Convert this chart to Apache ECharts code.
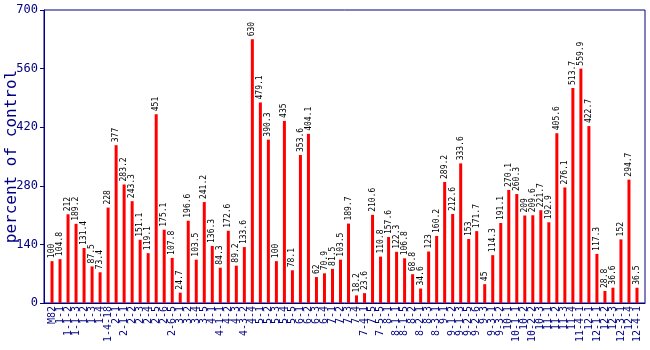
<!DOCTYPE html>
<html><head><meta charset="utf-8">
<script src="https://cdn.jsdelivr.net/npm/echarts@6/dist/echarts.min.js"></script>
<style>html,body{margin:0;padding:0;background:#fff}#c{width:650px;height:350px}</style>
</head><body><div id="c"></div>
<script>
const categories = ["M82","1-1","1-1-2","1-1-3","1-2","1-3","1-4","1-4-18","2-1","2-1-1","2-2","2-3","2-4","2-5","2-6","2-6-5","3-1","3-2","3-4","3-5","4-1","4-1-1","4-2","4-3","4-3-2","4-4","5-1","5-2","5-3","5-4","5-5","6-1","6-2","6-3","6-4","7-1","7-2","7-3","7-4","7-4-1","7-5","7-5-5","8-1","8-1-1","8-1-5","8-2","8-2-1","8-3","8-3-1","9-1","9-1-2","9-1-3","9-2-5","9-2-6","9-3","9-3-1","9-3-2","10-1","10-1-1","10-2","10-2-2","10-3","11-1","11-2","11-3","11-4","11-4-1","12-1","12-1-1","12-2","12-3","12-3-1","12-4","12-4-1"];
const values = [100,104.8,212,189.2,131.4,87.5,73.4,228,377,283.2,243.3,151.1,119.1,451,175.1,107.8,24.7,196.6,103.5,241.2,136.3,84.3,172.6,89.2,133.6,630,479.1,390.3,100,435,78.1,353.6,404.1,62,70.9,81.5,103.5,189.7,18.2,23.6,210.6,110.8,157.6,122.3,106.8,68.8,34.6,123,160.2,289.2,212.6,333.6,153,171.7,45,114.3,191.1,270.1,260.3,209,209.6,221.7,192.9,405.6,276.1,513.7,559.9,422.7,117.3,28.8,36.6,152,294.7,36.5];
const yTicks = [0,140,280,420,560,700];

const blue = '#000080';
const mono = 'DejaVu Sans Mono';
const cats = [''].concat(categories, ['']);
const data = ['-'].concat(values, ['-']);

const chart = echarts.init(document.getElementById('c'), null, {renderer:'canvas'});
chart.setOption({
  animation:false,
  grid:{left:44,right:5,top:10,bottom:47,show:true,borderColor:blue,borderWidth:1,containLabel:false,outerBoundsMode:'none'},
  xAxis:{type:'category',data:cats,boundaryGap:false,
    axisLine:{lineStyle:{color:blue,width:1}},axisTick:{show:false},
    axisLabel:{interval:0,rotate:90,color:blue,fontFamily:mono,fontSize:10,margin:3,hideOverlap:false}},
  yAxis:{type:'value',min:yTicks[0],max:yTicks[yTicks.length-1],interval:140,
    name:'percent of control',nameLocation:'middle',nameGap:24,nameMoveOverlap:false,
    nameTextStyle:{color:blue,fontFamily:mono,fontSize:16},
    axisLine:{show:true,lineStyle:{color:blue}},splitLine:{show:false},
    axisTick:{show:true,length:4,lineStyle:{color:blue}},
    axisLabel:{color:blue,fontFamily:mono,fontSize:12,margin:6}},
  series:[{type:'bar',data:data,barWidth:3,itemStyle:{color:'#ff0000'},
    label:{show:true,position:'top',rotate:90,align:'left',verticalAlign:'middle',distance:3,
      color:'#000',fontFamily:mono,fontSize:8}}]
});
</script></body></html>
